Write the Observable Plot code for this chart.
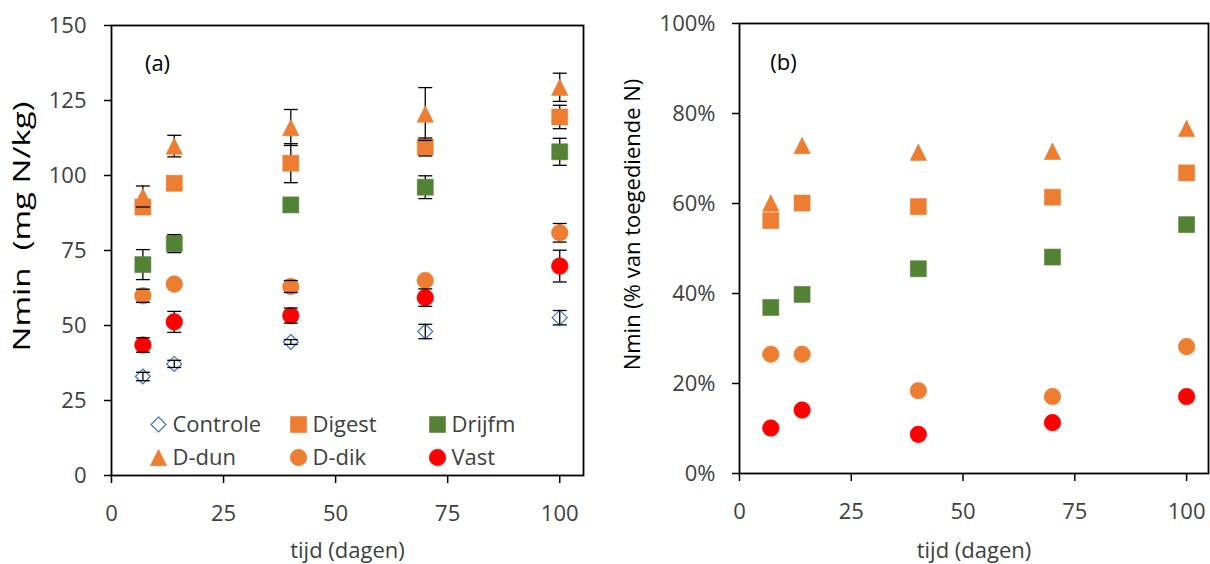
<!DOCTYPE html>
<html>
<head>
<meta charset="utf-8">
<script src="https://cdn.jsdelivr.net/npm/d3@7"></script>
<script src="https://cdn.jsdelivr.net/npm/@observablehq/plot@0.6"></script>
<style>
  body { margin: 0; background: #fff; }
  #wrap { position: relative; width: 1210px; height: 564px; display: flex; }
  #wrap svg { display: block; }
</style>
</head>
<body>
<div id="wrap"></div>
<script>
// ---------- data ----------
const days = [7, 14, 40, 70, 100];
const seriesNames = ["Controle", "Digest", "Drijfm", "D-dun", "D-dik", "Vast"];
const seriesColors = ["#4472C4", "#ED7D31", "#548235", "#ED7D31", "#ED7D31", "#FF0000"];
const seriesShapes = ["diamond", "square", "square", "triangle", "circle", "circle"];

// panel (a): Nmin (mg N/kg) and error bars
const nminControle = [33.0, 37.2, 44.5, 48.0, 52.6];
const errControle  = [1.4, 1.2, 0.8, 2.4, 2.4];
const nminDigest   = [89.5, 97.4, 104.1, 109.5, 119.5];
const errDigest    = [0, 0, 6.5, 3.0, 3.9];
const nminDrijfm   = [70.3, 77.3, 90.2, 96.1, 107.9];
const errDrijfm    = [5.0, 3.0, 0, 3.8, 4.5];
const nminDdun     = [93.0, 109.8, 116.0, 120.5, 129.4];
const errDdun      = [3.5, 3.6, 6.0, 8.8, 4.7];
const nminDdik     = [59.9, 63.8, 63.0, 65.0, 80.9];
const errDdik      = [2.2, 0, 2.0, 0, 3.1];
const nminVast     = [43.5, 51.2, 53.3, 59.3, 69.8];
const errVast      = [2.4, 3.5, 2.5, 2.9, 5.3];

// panel (b): Nmin (% of applied N), fractions
const pctDigest = [0.562, 0.601, 0.593, 0.614, 0.668];
const pctDrijfm = [0.369, 0.398, 0.455, 0.481, 0.553];
const pctDdun   = [0.601, 0.729, 0.714, 0.716, 0.767];
const pctDdik   = [0.265, 0.265, 0.184, 0.171, 0.282];
const pctVast   = [0.101, 0.141, 0.087, 0.113, 0.171];

const yTicksA = [0, 25, 50, 75, 100, 125, 150];
const yTicksB = [0, 0.2, 0.4, 0.6, 0.8, 1.0];
const xTicks  = [0, 25, 50, 75, 100];

// ---------- build tables ----------
const valsA = [nminControle, nminDigest, nminDrijfm, nminDdun, nminDdik, nminVast];
const errsA = [errControle, errDigest, errDrijfm, errDdun, errDdik, errVast];
const valsB = [null, pctDigest, pctDrijfm, pctDdun, pctDdik, pctVast];

const rowsA = [];
seriesNames.forEach((s, i) => days.forEach((d, j) =>
  rowsA.push({series: s, idx: i, day: d, v: valsA[i][j], e: errsA[i][j]})));
const rowsB = [];
seriesNames.forEach((s, i) => { if (valsB[i]) days.forEach((d, j) =>
  rowsB.push({series: s, idx: i, day: d, v: valsB[i][j]})); });

// ---------- custom symbols (Excel-like markers) ----------
const hOf = size => Math.sqrt(size / Math.PI);
const SYM = {
  triangle: {draw(c, s) { const h = hOf(s); c.moveTo(0, -h); c.lineTo(h, h); c.lineTo(-h, h); c.closePath(); }},
  square:   {draw(c, s) { const h = hOf(s); c.rect(-h, -h, 2 * h, 2 * h); }},
  diamond:  {draw(c, s) { const h = hOf(s); c.moveTo(0, -h); c.lineTo(h, 0); c.lineTo(0, h); c.lineTo(-h, 0); c.closePath(); }},
  circle:   {draw(c, s) { const h = hOf(s); c.moveTo(h, 0); c.arc(0, 0, h, 0, 2 * Math.PI); }},
  cap:      {draw(c, s) { const h = hOf(s); c.moveTo(-h, 0); c.lineTo(h, 0); }}
};
const R = {triangle: 8.2, square: 8, diamond: 7.5, circle: 8.3};

function markerDot(data, i, extra = {}) {
  const shape = seriesShapes[i];
  const hollow = shape === "diamond";
  return Plot.dot(data.filter(d => d.idx === i), {
    x: "day", y: "v",
    symbol: SYM[shape], r: R[shape],
    fill: hollow ? "none" : seriesColors[i],
    stroke: seriesColors[i],
    strokeWidth: hollow ? 1.2 : 0.6,
    ...extra
  });
}

const FONT = "'Open Sans', 'Noto Sans', sans-serif";
const TXT = "#404040";

// ---------- panel (a) ----------
const legendCols = [47, 187, 326];
const legendRows = [399, 432];
const legendMarks = [];
seriesNames.forEach((s, i) => {
  const col = legendCols[i % 3], row = legendRows[Math.floor(i / 3)];
  const shape = seriesShapes[i];
  const hollow = shape === "diamond";
  legendMarks.push(Plot.dot([s], {
    frameAnchor: "top-left", dx: col, dy: row,
    symbol: SYM[shape], r: R[shape],
    fill: hollow ? "none" : seriesColors[i], stroke: seriesColors[i],
    strokeWidth: hollow ? 1.2 : 0.6
  }));
  legendMarks.push(Plot.text([s], {
    frameAnchor: "top-left", dx: col + 14, dy: row, text: d => d,
    textAnchor: "start", lineAnchor: "middle", fontSize: 22, fill: TXT
  }));
});

const errRows = rowsA.filter(d => d.e > 0);

const plotA = Plot.plot({
  width: 605, height: 564,
  marginLeft: 111, marginRight: 22, marginTop: 25, marginBottom: 89,
  style: {fontFamily: FONT, fontSize: "22px", color: TXT, background: "white"},
  x: {domain: [0, 105.3]},
  y: {domain: [0, 150]},
  marks: [
    Plot.axisY({ticks: yTicksA, tickSize: 7, tickPadding: 18, fontSize: 22, label: null, stroke: "black", strokeWidth: 1.5, fill: TXT}),
    Plot.axisX({ticks: xTicks, tickSize: 8, tickPadding: 22, fontSize: 22, label: null, stroke: "black", strokeWidth: 1.5, fill: TXT}),
    Plot.ruleX(errRows, {x: "day", y1: d => d.v - d.e, y2: d => d.v + d.e, stroke: "black", strokeWidth: 1.3}),
    ...seriesNames.map((s, i) => markerDot(rowsA, i)),
    Plot.dot(errRows, {x: "day", y: d => d.v + d.e, symbol: SYM.cap, r: 7, stroke: "black", strokeWidth: 1.3, fill: "none"}),
    Plot.dot(errRows, {x: "day", y: d => d.v - d.e, symbol: SYM.cap, r: 7, stroke: "black", strokeWidth: 1.3, fill: "none"}),
    Plot.frame({stroke: "black", strokeWidth: 1.8}),
    ...legendMarks,
    Plot.text(["(a)"], {frameAnchor: "top-left", dx: 46, dy: 38, fontSize: 22, fill: "black", textAnchor: "middle", lineAnchor: "middle"}),
    Plot.text(["Nmin\u00a0 (mg N/kg)"], {frameAnchor: "left", dx: -89, dy: -24, rotate: -90, fontSize: 23, fill: "black", textAnchor: "middle", lineAnchor: "middle"}),
    Plot.text(["tijd (dagen)"], {frameAnchor: "bottom", dy: 75, fontSize: 22, fill: TXT, textAnchor: "middle", lineAnchor: "middle"})
  ]
});

// ---------- panel (b) ----------
const plotB = Plot.plot({
  width: 605, height: 564,
  marginLeft: 134, marginRight: 2, marginTop: 23, marginBottom: 91,
  style: {fontFamily: FONT, fontSize: "22px", color: TXT, background: "white"},
  x: {domain: [0, 104.9]},
  y: {domain: [0, 1]},
  marks: [
    Plot.axisY({ticks: yTicksB, tickFormat: d3.format(".0%"), tickSize: 7, tickPadding: 17, fontSize: 22, label: null, stroke: "black", strokeWidth: 1.5, fill: TXT}),
    Plot.axisX({ticks: xTicks, tickSize: 8, tickPadding: 22, fontSize: 22, label: null, stroke: "black", strokeWidth: 1.5, fill: TXT}),
    ...seriesNames.map((s, i) => valsB[i] ? markerDot(rowsB, i) : null).filter(Boolean),
    Plot.frame({stroke: "black", strokeWidth: 1.8}),
    Plot.text(["(b)"], {frameAnchor: "top-left", dx: 44, dy: 39, fontSize: 22, fill: "black", textAnchor: "middle", lineAnchor: "middle"}),
    Plot.text(["Nmin (% van toegediende N)"], {frameAnchor: "left", dx: -107, dy: -24, rotate: -90, fontSize: 22, fill: "black", textAnchor: "middle", lineAnchor: "middle"}),
    Plot.text(["tijd (dagen)"], {frameAnchor: "bottom", dy: 77, fontSize: 22, fill: TXT, textAnchor: "middle", lineAnchor: "middle"})
  ]
});

// the left axis title of panel (a) is drawn stretched in the reference
d3.select(plotA).selectAll("text")
  .filter(function () { return this.textContent.startsWith("Nmin"); })
  .attr("textLength", 250)
  .attr("lengthAdjust", "spacingAndGlyphs");

const wrap = document.getElementById("wrap");
wrap.appendChild(plotA);
wrap.appendChild(plotB);
</script>
</body>
</html>
